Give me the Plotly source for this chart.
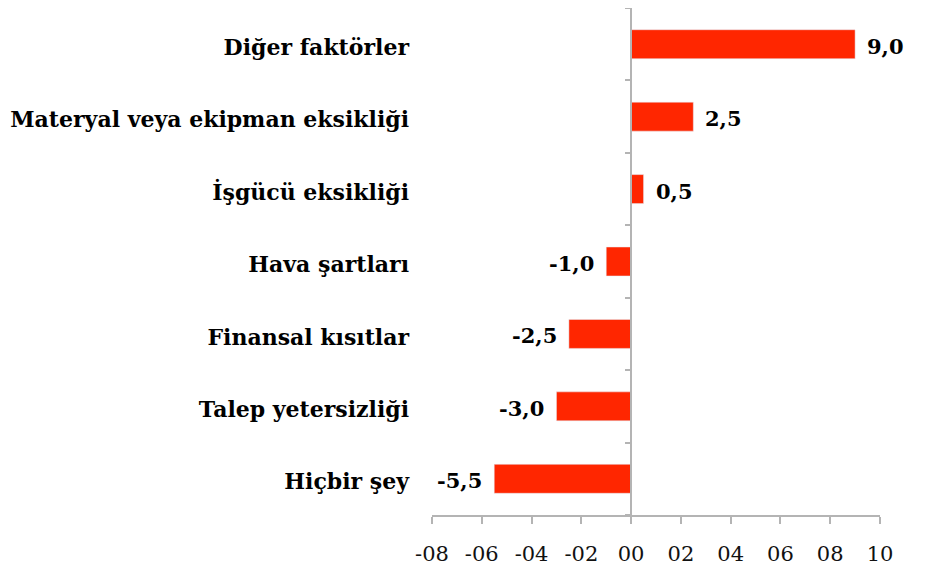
import plotly.graph_objects as go

categories = ["Hiçbir şey", "Talep yetersizliği", "Finansal kısıtlar", "Hava şartları",
              "İşgücü eksikliği", "Materyal veya ekipman eksikliği", "Diğer faktörler"]
values = [-5.5, -3.0, -2.5, -1.0, 0.5, 2.5, 9.0]
tick_vals = [-8, -6, -4, -2, 0, 2, 4, 6, 8, 10]
tick_text = ["-08", "-06", "-04", "-02", "00", "02", "04", "06", "08", "10"]

labels = [f"{v:.1f}".replace(".", ",") for v in values]
font_family = "DejaVu Serif"
axis_gray = "#B4B4B4"

fig = go.Figure()
fig.add_trace(go.Bar(
    x=values, y=categories, orientation="h",
    marker=dict(color="#FF2600", line=dict(width=0)),
    width=0.4,
    hoverinfo="skip",
))
# invisible copy on secondary axis for the zero-position axis line with boundary ticks
fig.add_trace(go.Bar(
    x=values, y=categories, orientation="h", yaxis="y2",
    marker=dict(color="rgba(0,0,0,0)"), width=0.4, hoverinfo="skip", showlegend=False,
))

for v, c, t in zip(values, categories, labels):
    fig.add_annotation(
        x=v, y=c, text=t, showarrow=False,
        xanchor="left" if v >= 0 else "right",
        xshift=10 if v >= 0 else -10, yshift=-2,
        font=dict(family=font_family, size=21, color="#000000", weight="bold"),
    )

x_min, x_max = -8, 10
fig.update_layout(
    width=926, height=573,
    margin=dict(l=424, r=54, t=0, b=66, autoexpand=False),
    paper_bgcolor="white", plot_bgcolor="white",
    showlegend=False,
    barmode="overlay",
    xaxis=dict(
        range=[x_min, x_max], tickvals=tick_vals, ticktext=tick_text,
        showgrid=False, zeroline=False,
        showline=True, linecolor=axis_gray, linewidth=1.5,
        ticks="outside", ticklen=7, tickcolor=axis_gray, tickwidth=1.5,
        tickfont=dict(family=font_family, size=21, color="#111111"),
        ticklabelstandoff=12,
    ),
    yaxis=dict(
        categoryorder="array", categoryarray=categories,
        showgrid=False, zeroline=False, showline=False, ticks="",
        tickfont=dict(family=font_family, size=22, color="#000000", weight="bold"),
        ticklabelstandoff=22, ticklabelshift=3,
    ),
    yaxis2=dict(
        overlaying="y", matches="y", anchor="free",
        position=(0 - x_min) / (x_max - x_min), side="left",
        categoryorder="array", categoryarray=categories,
        showgrid=False, zeroline=False, showticklabels=False,
        showline=True, linecolor=axis_gray, linewidth=1.5,
        ticks="outside", ticklen=5, tickcolor=axis_gray, tickwidth=1.5,
        tickson="boundaries",
    ),
)

fig.write_html("out.html")
